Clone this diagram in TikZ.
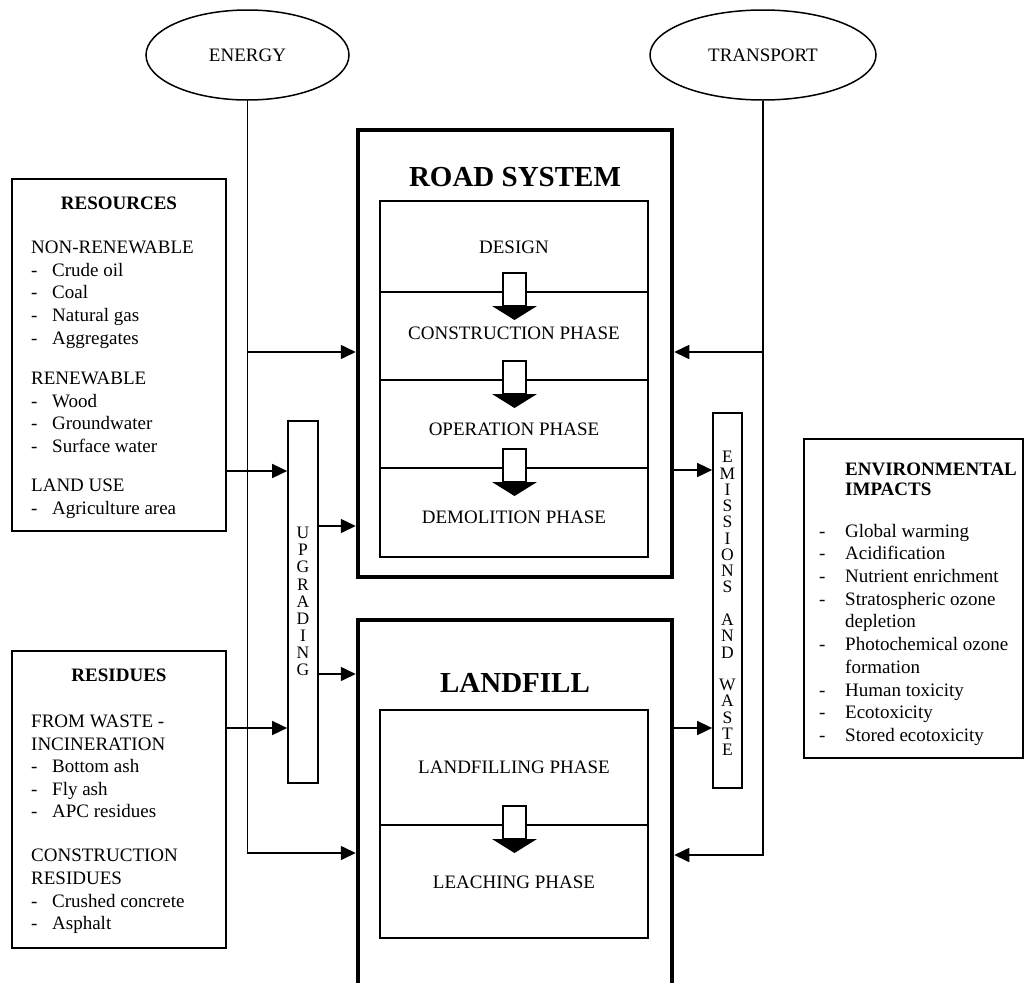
\documentclass[tikz,border=0pt]{standalone}
\usepackage{fontspec}
\setmainfont{Liberation Serif}
\usetikzlibrary{arrows.meta,shapes.geometric}
\newcommand\litem[1]{\makebox[21pt][l]{-}#1}
\newcommand\eitem[1]{\makebox[26pt][l]{-}#1}
\newcommand\phasearrow[2]{%
  \draw[line width=1.3pt, fill=white] (#1-11.5,#2-19) rectangle (#1+11.5,#2+14);
  \fill (#1-22.5,#2+14) -- (#1+22.5,#2+14) -- (#1,#2+28) -- cycle;}
\begin{document}
\begin{tikzpicture}[x=1pt,y=-1pt,
  arr/.style={line width=1.6pt, -{Triangle[length=15pt,width=14pt]}},
  box/.style={draw, line width=1.7pt, inner sep=0pt},
  big/.style={draw, line width=4.5pt, inner sep=0pt, minimum width=314pt},
  inbox/.style={draw, line width=1.7pt, inner sep=0pt, minimum width=268pt},
  txt/.style={inner sep=0pt, font=\fontsize{19}{22.7}\selectfont},
  ttl/.style={inner sep=0pt, font=\bfseries\fontsize{19}{22.7}\selectfont},
  head/.style={inner sep=0pt, font=\bfseries\fontsize{29}{30}\selectfont},
  vert/.style={inner sep=0pt, align=center},
  oval/.style={draw, ellipse, line width=1.5pt, inner sep=0pt, minimum height=90pt, font=\fontsize{19}{22.7}\selectfont}
]
\useasboundingbox (0,0) rectangle (1026,983);
\fill[white] (0,0) rectangle (1026,983);
\clip (0,0) rectangle (1026,983);

% ellipses
\node[oval, minimum width=203pt] (energy) at (247.5,55) {ENERGY};
\node[oval, minimum width=226pt] (transport) at (763,55) {TRANSPORT};

% side boxes
\node[box, minimum width=214pt, minimum height=352pt] (res) at (119,355) {};
\node[box, minimum width=214pt, minimum height=297pt] (resid) at (119,799.5) {};
\node[box, minimum width=30pt, minimum height=362pt] (upg) at (303,602) {};
\node[box, minimum width=29pt, minimum height=375pt] (emis) at (727.5,600.5) {};
\node[box, minimum width=219pt, minimum height=319pt] (env) at (913.5,598.5) {};

% road system
\node[big, minimum height=447pt] (ro) at (515,353.5) {};
\node[inbox, minimum height=356pt] (ri) at (514,379) {};
\node[head, anchor=base] (rt) at (515,186.6) {ROAD SYSTEM};
\draw[line width=1.7pt] (ri.west |- 0,292) -- (ri.east |- 0,292);
\draw[line width=1.7pt] (ri.west |- 0,380) -- (ri.east |- 0,380);
\draw[line width=1.7pt] (ri.west |- 0,468) -- (ri.east |- 0,468);
\node[txt] (p1) at (514,247) {DESIGN};
\node[txt] (p2) at (514,333) {CONSTRUCTION PHASE};
\node[txt] (p3) at (514,429) {OPERATION PHASE};
\node[txt] (p4) at (514,517) {DEMOLITION PHASE};
\phasearrow{514.5}{292}
\phasearrow{514.5}{380}
\phasearrow{514.5}{468}

% landfill
\node[big, minimum height=400pt] (lfo) at (515,820) {};
\node[inbox, minimum height=228pt] (li) at (514,824) {};
\node[head, anchor=base] (lt) at (515,692.6) {LANDFILL};
\draw[line width=1.7pt] (li.west |- 0,825) -- (li.east |- 0,825);
\node[txt] (p5) at (514,767) {LANDFILLING PHASE};
\node[txt] (p6) at (514,882) {LEACHING PHASE};
\phasearrow{514.5}{825}

% vertical labels
\node[vert, font=\fontsize{17.5}{17.1}\selectfont] (upgt) at (303,601.5) {U\\P\\G\\R\\A\\D\\I\\N\\G};
\node[vert, font=\fontsize{17.5}{16.26}\selectfont] (emist) at (727.5,603.5)
  {E\\M\\I\\S\\S\\I\\O\\N\\S\\[16.26pt]A\\N\\D\\[16.26pt]W\\A\\S\\T\\E};

% resources text
\node[ttl, anchor=base] (rest) at (119,209.5) {RESOURCES};
\foreach \t/\yy [count=\i] in {
  {NON-RENEWABLE}/253.5, {\litem{Crude oil}}/276.2, {\litem{Coal}}/298.9,
  {\litem{Natural gas}}/321.6, {\litem{Aggregates}}/344.3,
  {RENEWABLE}/384.5, {\litem{Wood}}/407.2, {\litem{Groundwater}}/429.9,
  {\litem{Surface water}}/452.6, {LAND USE}/491.5, {\litem{Agriculture area}}/514.2}
  \node[txt, anchor=base west, name=r\i] at (31,\yy) {\t};

% residues text
\node[ttl, anchor=base] (residt) at (119,681.5) {RESIDUES};
\foreach \t/\yy [count=\i] in {
  {FROM WASTE -}/727.5, {INCINERATION}/750, {\litem{Bottom ash}}/772.5,
  {\litem{Fly ash}}/795, {\litem{APC residues}}/817.5,
  {CONSTRUCTION}/861.5, {RESIDUES}/884, {\litem{Crushed concrete}}/907,
  {\litem{Asphalt}}/929.5}
  \node[txt, anchor=base west, name=s\i] at (31,\yy) {\t};

% environmental impacts text
\node[ttl, anchor=base west] (envt1) at (845,475.5) {ENVIRONMENTAL};
\node[ttl, anchor=base west] (envt2) at (845,495) {IMPACTS};
\foreach \t/\yy [count=\i] in {
  {\eitem{Global warming}}/537.5, {\eitem{Acidification}}/559.8,
  {\eitem{Nutrient enrichment}}/582.6, {\eitem{Stratospheric ozone}}/605.2,
  {\makebox[26pt]{}depletion}/627.9, {\eitem{Photochemical ozone}}/650.6,
  {\makebox[26pt]{}formation}/673.3, {\eitem{Human toxicity}}/696,
  {\eitem{Ecotoxicity}}/718.6, {\eitem{Stored ecotoxicity}}/741.3}
  \node[txt, anchor=base west, name=e\i] at (819,\yy) {\t};

% connectors
\draw[arr] (energy.south) |- (lfo.west |- 0,853);
\draw[arr] (energy.south |- 0,352) -- (ro.west |- 0,352);
\draw[arr] (transport.south) |- (lfo.east |- 0,855);
\draw[arr] (transport.south |- 0,352) -- (ro.east |- 0,352);
\draw[arr] (res.east |- 0,471) -- (upg.west |- 0,471);
\draw[arr] (resid.east |- 0,728) -- (upg.west |- 0,728);
\draw[arr] (upg.east |- 0,526) -- (ro.west |- 0,526);
\draw[arr] (upg.east |- 0,674) -- (lfo.west |- 0,674);
\draw[arr] (ro.east |- 0,470) -- (emis.west |- 0,470);
\draw[arr] (lfo.east |- 0,728) -- (emis.west |- 0,728);
\end{tikzpicture}
\end{document}
